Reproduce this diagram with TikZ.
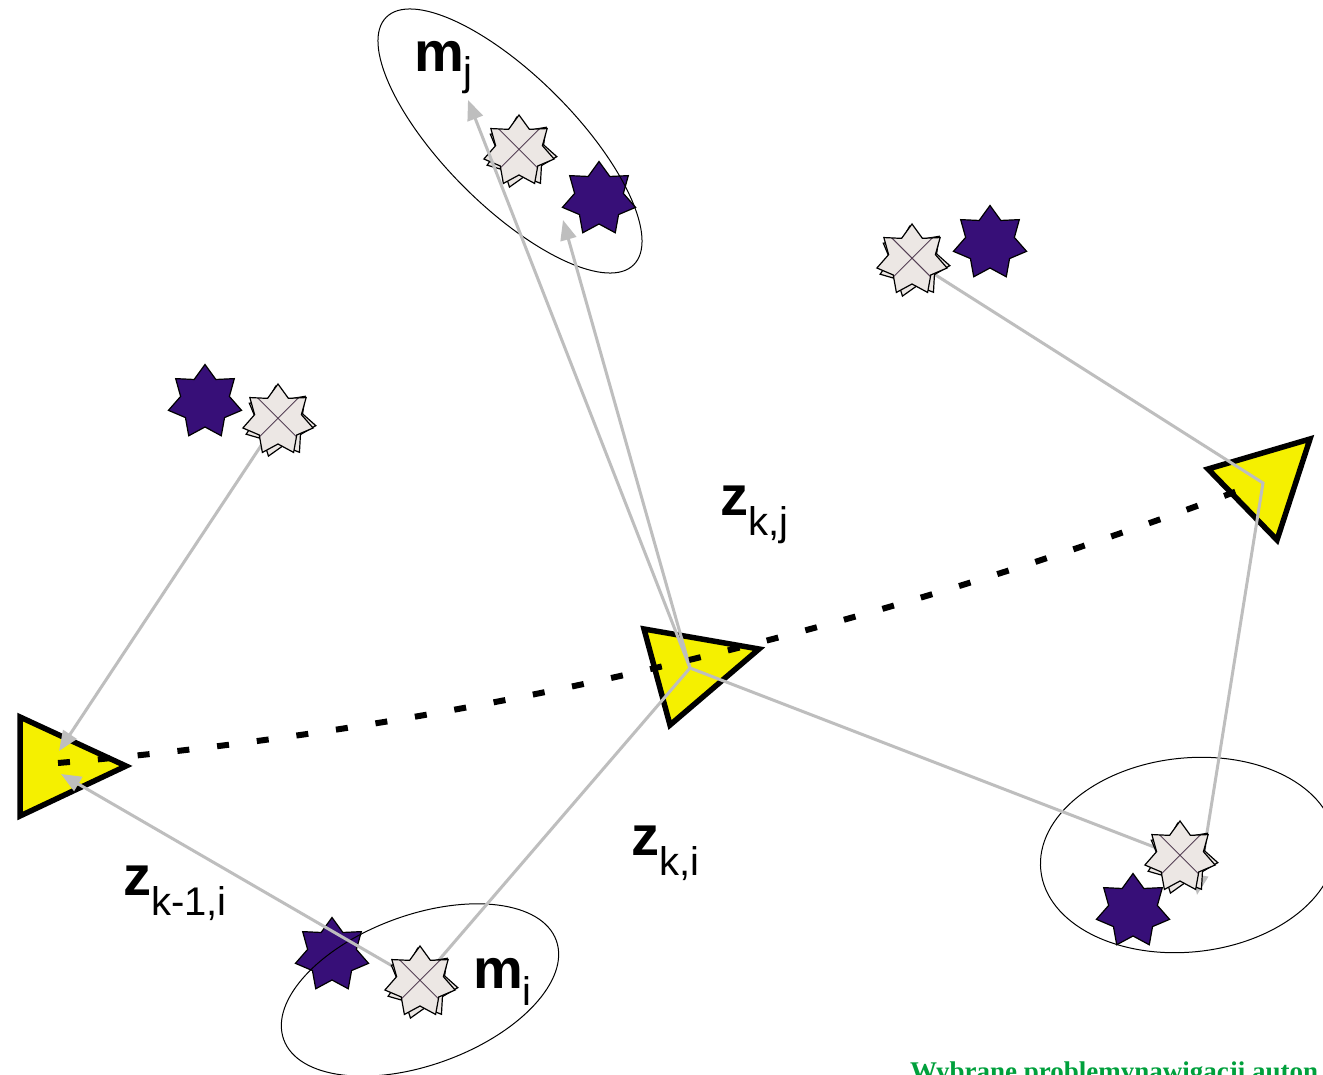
\documentclass[tikz,border=0pt]{standalone}
\usepackage{fontspec}
\setmainfont{Liberation Sans}
\newfontfamily\capserif{Liberation Serif}
\usetikzlibrary{shapes.geometric,arrows.meta}
\definecolor{darkstar}{RGB}{55,15,120}
\definecolor{lightstar}{RGB}{236,231,228}
\definecolor{crossline}{RGB}{85,65,85}
\definecolor{triyellow}{RGB}{245,240,0}
\definecolor{arrowgray}{RGB}{190,190,190}
\definecolor{capgreen}{RGB}{0,160,60}
\newcommand\subfnt{\fontsize{40}{44}\selectfont\mdseries}
\begin{document}
\begin{tikzpicture}[x=1pt,y=-1pt,
  dstar/.style={star, star points=7, star point ratio=1.5, minimum size=75pt, inner sep=0pt,
    draw=black, line width=1.2pt, fill=darkstar},
  lstarbase/.style={star, star points=7, star point ratio=1.5, minimum size=72pt, inner sep=0pt,
    draw=black, line width=1.2pt, fill=lightstar},
  lstar/.style={lstarbase, path picture={
    \draw[crossline, line width=1pt]
      ([shift={(-40pt,-40pt)}]path picture bounding box.center) -- ([shift={(40pt,40pt)}]path picture bounding box.center)
      ([shift={(-40pt,40pt)}]path picture bounding box.center) -- ([shift={(40pt,-40pt)}]path picture bounding box.center);}},
  robot/.style={draw=black, line width=5.5pt, line join=miter, fill=triyellow},
  meas/.style={draw=arrowgray, line width=3pt, -{Triangle[length=20pt,width=16pt]}},
  measline/.style={draw=arrowgray, line width=3pt},
  trajdots/.style={draw=black, line width=6pt, dash pattern=on 12pt off 28pt},
  unc/.style={draw=black, line width=1pt},
  lab/.style={inner sep=0pt, anchor=base west, font=\fontsize{56}{60}\selectfont\bfseries}
]
\clip (0,0) rectangle (1323,1075);
\fill[white] (0,0) rectangle (1323,1075);

% robot poses (triangles)
\draw[robot] (20,717) -- (20,816) -- (126,766) -- cycle;
\draw[robot] (644,629) -- (759,649) -- (670,725) -- cycle;
\draw[robot] (1208,469) -- (1310,439) -- (1277,540) -- cycle;
\coordinate (hubL) at (58,763);
\coordinate (hubM) at (690,668);
\coordinate (hubR) at (1263,483);

% dark stars (landmark estimates)
\node[dstar] (T2) at (599,199) {};
\node[dstar] (R2) at (990,243) {};
\node[dstar] (L1) at (205,402) {};
\node[dstar] (B1) at (332,955) {};
\node[dstar] (E2) at (1133,911) {};

% uncertainty ellipses
\draw[unc, rotate around={-45:(510,141)}] (510,141) ellipse [x radius=175pt, y radius=65pt];
\draw[unc, rotate around={20:(420,990)}] (420,990) ellipse [x radius=145pt, y radius=75pt];
\draw[unc, rotate around={6:(1188,855)}] (1188,855) ellipse [x radius=148pt, y radius=97pt];

% star centres for light stars
\coordinate (T1c) at (519,151);
\coordinate (R1c) at (912,260);
\coordinate (L2c) at (278,420);
\coordinate (B2c) at (420,982);
\coordinate (E1c) at (1180,857);
\coordinate (tipLa) at (59,751);
\coordinate (tipLb) at (61,774);
\coordinate (tipMj) at (468,100);
\coordinate (tipMd) at (563,220);
\coordinate (tipRe) at (1197,895);

% measurement lines under the light stars
\draw[meas] (L2c) -- (tipLa);
\draw[meas] (B2c) -- (tipLb);
\draw[measline] (hubM) -- (B2c);
\draw[measline] (hubM) -- (E1c);
\draw[meas] (R1c) -- (hubR) -- (tipRe);

% light stars (observed landmarks)
\node[lstarbase, shape border rotate=7] at (521,153) {};
\node[lstar] (T1) at (T1c) {};
\node[lstarbase, shape border rotate=7] at (914,262) {};
\node[lstar] (R1) at (R1c) {};
\node[lstarbase, shape border rotate=7] at (280,422) {};
\node[lstar] (L2) at (L2c) {};
\node[lstarbase, shape border rotate=7] at (422,984) {};
\node[lstar] (B2) at (B2c) {};
\node[lstarbase, shape border rotate=7] at (1182,859) {};
\node[lstar] (E1) at (E1c) {};

% measurements from the middle pose
\draw[meas] (hubM) -- (tipMj);
\draw[meas] (hubM) -- (tipMd);

% robot trajectory
\draw[trajdots] (hubL) .. controls (453,729) and (847,638) .. (1240,490);

% labels
\node[lab] (mj) at (414,72) {m\raisebox{-14pt}{\subfnt j}};
\node[lab] (mi) at (473,988) {m\raisebox{-17pt}{\subfnt i}};
\node[lab] (zkj) at (720,515) {z\raisebox{-20pt}{\subfnt k,j}};
\node[lab] (zki) at (631,855) {z\raisebox{-20pt}{\subfnt k,i}};
\node[lab] (zk1i) at (123,895) {z\raisebox{-20pt}{\subfnt k-1,i}};

\node[inner sep=0pt, anchor=base west, text=capgreen,
  font=\capserif\bfseries\fontsize{27}{30}\selectfont] (cap) at (910,1080) {Wybrane problemynawigacji auton};
\end{tikzpicture}
\end{document}
